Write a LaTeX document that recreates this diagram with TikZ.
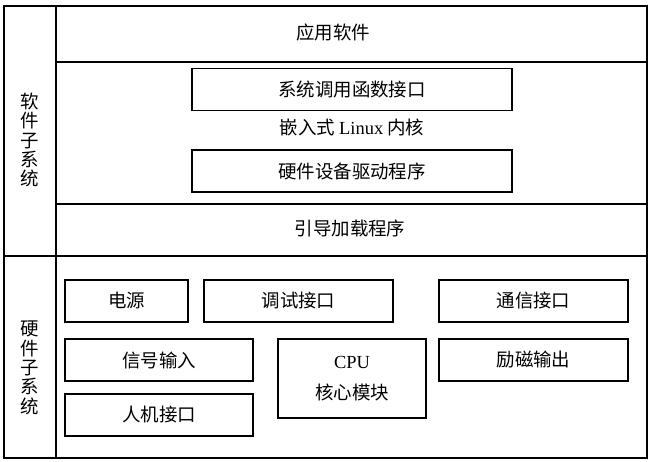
\documentclass[tikz,border=0pt]{standalone}
\usepackage{fontspec}
\setmainfont{Liberation Serif}
\newfontfamily\cjkfont{Noto Sans CJK SC}
\usepackage{tikz}
\usetikzlibrary{positioning}

\tikzset{
  blk/.style={rectangle, draw, line width=0.9pt, inner sep=0pt, outer sep=0pt,
    minimum height=0.84cm, font=\cjkfont\fontsize{10.5}{18}\selectfont},
  lbl/.style={inner sep=0pt, font=\cjkfont\fontsize{10.5}{18}\selectfont},
  side/.style={inner sep=0pt, align=center, font=\cjkfont\fontsize{10.5}{11}\selectfont},
}

\begin{document}
\begin{tikzpicture}[x=0.02cm, y=-0.02cm]
        \useasboundingbox (0,0) rectangle (650,462);

        % frame
        \draw[line width=1pt] (4,6) rectangle (647,458);
        \draw[line width=0.9pt] (56,6) -- (56,458);
        \draw[line width=0.9pt] (56,62) -- (647,62);
        \draw[line width=0.9pt] (56,204) -- (647,204);
        \draw[line width=0.9pt] (4,256) -- (647,256);

        \node[side] (soft) at (30,140) {软\\件\\子\\系\\统};
        \node[side] (hard) at (30,368) {硬\\件\\子\\系\\统};

        % software layers
        \node[lbl] (app) at (333,32) {应用软件};
        \node[blk, minimum width=6.4cm] (syscall) at (352,89.5) {系统调用函数接口};
        \node[lbl] (kernel) at (352,127) {嵌入式 {\rmfamily Linux} 内核};
        \node[blk, minimum width=6.4cm] (driver) at (352,171) {硬件设备驱动程序};
        \node[lbl] (boot) at (350,228) {引导加载程序};

        % hardware modules
        \node[blk, minimum width=2.46cm] (power) at (126.5,301) {电源};
        \node[blk, minimum width=3.78cm] (debug) at (298.5,301) {调试接口};
        \node[blk, minimum width=3.78cm] (comm) at (533.5,301) {通信接口};
        \node[blk, minimum width=3.76cm] (signal) at (159,360) {信号输入};
        \node[blk, minimum width=3.76cm] (hmi) at (159,415) {人机接口};
        \node[blk, minimum width=2.96cm, minimum height=1.58cm, align=center] (cpu) at (352,378.5) {{\rmfamily CPU}\\核心模块};
        \node[blk, minimum width=3.78cm] (excite) at (533.5,360) {励磁输出};
\end{tikzpicture}
\end{document}
